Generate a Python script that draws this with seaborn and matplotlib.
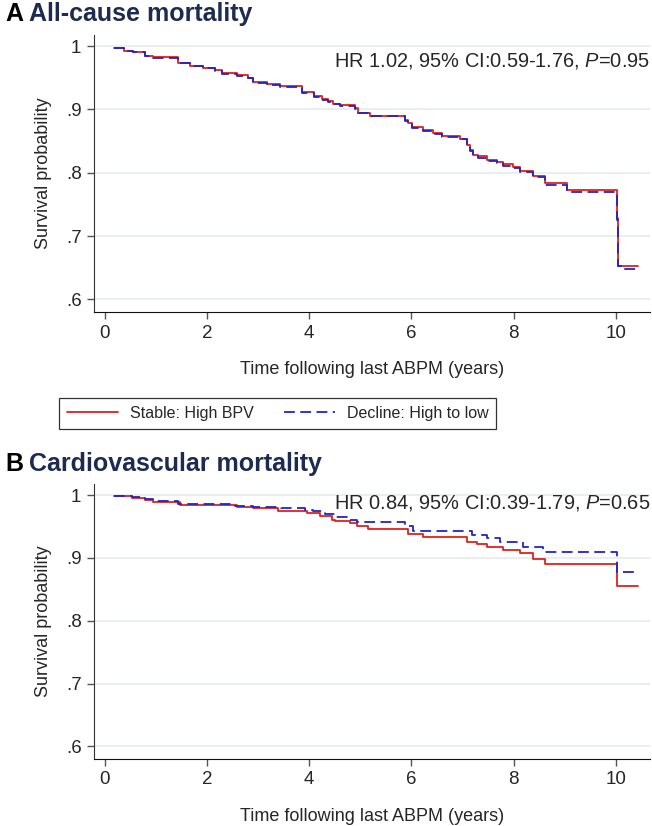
import pandas as pd
import seaborn as sns
import matplotlib.pyplot as plt
from matplotlib.lines import Line2D

# Panel A: all-cause mortality (KM curves)
a_stable_t = [0.18, 0.37, 0.55, 0.78, 0.94, 1.43, 1.66, 1.92, 2.15, 2.3, 2.58, 2.8, 2.9, 3.17, 3.42,
              3.85, 4.1, 4.25, 4.37, 4.46, 4.6, 4.9, 4.95, 5.19, 5.87, 5.93, 6.02, 6.22, 6.42, 6.6,
              6.95, 7.08, 7.15, 7.2, 7.3, 7.47, 7.67, 7.79, 7.98, 8.12, 8.38, 8.61, 9.04, 10.02,
              10.05, 10.43]
a_stable_s = [0.997, 0.993, 0.990, 0.985, 0.982, 0.974, 0.969, 0.966, 0.962, 0.957, 0.954, 0.950,
              0.943, 0.940, 0.937, 0.927, 0.921, 0.916, 0.914, 0.909, 0.907, 0.902, 0.895, 0.890,
              0.883, 0.878, 0.872, 0.867, 0.862, 0.858, 0.854, 0.844, 0.836, 0.828, 0.826, 0.820,
              0.817, 0.813, 0.809, 0.803, 0.795, 0.783, 0.7725, 0.728, 0.653, 0.653]
a_decline_t = [0.18, 0.37, 0.55, 0.78, 0.94, 1.43, 1.66, 1.92, 2.15, 2.3, 2.58, 2.8, 2.9, 3.17, 3.42,
               3.85, 4.1, 4.25, 4.37, 4.46, 4.6, 4.9, 4.95, 5.19, 5.87, 5.93, 6.02, 6.22, 6.42, 6.6,
               6.95, 7.08, 7.15, 7.2, 7.3, 7.47, 7.67, 7.79, 7.98, 8.12, 8.38, 8.61, 9.04, 10.02,
               10.05, 10.1, 10.43]
a_decline_s = [0.997, 0.993, 0.990, 0.984, 0.981, 0.973, 0.968, 0.965, 0.961, 0.956, 0.953, 0.949,
               0.942, 0.939, 0.936, 0.926, 0.920, 0.915, 0.912, 0.908, 0.906, 0.901, 0.894, 0.889,
               0.882, 0.877, 0.871, 0.866, 0.861, 0.857, 0.853, 0.843, 0.835, 0.827, 0.824, 0.819,
               0.815, 0.811, 0.807, 0.801, 0.793, 0.780, 0.770, 0.726, 0.653, 0.648, 0.648]

# Panel B: cardiovascular mortality
b_stable_t = [0.18, 0.52, 0.78, 0.94, 1.47, 2.58, 2.9, 3.39, 3.95, 4.2, 4.44, 4.5, 4.8, 4.93, 5.15,
              5.93, 6.22, 7.08, 7.28, 7.47, 7.79, 8.12, 8.38, 8.61, 10.02, 10.43]
b_stable_s = [0.999, 0.996, 0.992, 0.989, 0.984, 0.981, 0.979, 0.975, 0.971, 0.967, 0.961, 0.958,
              0.955, 0.951, 0.946, 0.938, 0.933, 0.926, 0.922, 0.918, 0.913, 0.907, 0.898, 0.890,
              0.855, 0.855]
b_decline_t = [0.18, 0.52, 0.78, 0.94, 1.43, 2.55, 2.9, 3.45, 3.92, 4.07, 4.3, 4.53, 4.8, 4.93, 5.87,
               6.03, 7.18, 7.47, 7.73, 8.18, 8.57, 10.02, 10.37]
b_decline_s = [0.999, 0.997, 0.994, 0.991, 0.986, 0.983, 0.981, 0.980, 0.976, 0.974, 0.970, 0.965,
               0.960, 0.957, 0.950, 0.943, 0.937, 0.931, 0.926, 0.918, 0.910, 0.878, 0.878]

x_ticks = [0, 2, 4, 6, 8, 10]
y_ticks = [0.6, 0.7, 0.8, 0.9, 1.0]
y_ticklabels = ['.6', '.7', '.8', '.9', '1']
groups = ['Stable: High BPV', 'Decline: High to low']
hr_texts = ['HR 1.02, 95% CI:0.59-1.76, $\\mathit{P}$=0.95',
            'HR 0.84, 95% CI:0.39-1.79, $\\mathit{P}$=0.65']
panel_letters = ['A', 'B']
panel_titles = ['All-cause mortality', 'Cardiovascular mortality']

red = '#e3201b'
blue = '#2323c8'
navy = '#1c2b4f'

sns.set_style('ticks')
plt.rcParams['font.family'] = ['Liberation Sans', 'DejaVu Sans']
plt.rcParams['mathtext.fontset'] = 'custom'
plt.rcParams['mathtext.rm'] = 'Liberation Sans'
plt.rcParams['mathtext.it'] = 'Liberation Sans:italic'

fig = plt.figure(figsize=(6.52, 8.26), dpi=100)
ax_a = fig.add_axes([94 / 652, 1 - 312 / 826, 556 / 652, 277 / 826])
ax_b = fig.add_axes([94 / 652, 1 - 759 / 826, 556 / 652, 275 / 826])

panels = [(ax_a, a_stable_t, a_stable_s, a_decline_t, a_decline_s),
          (ax_b, b_stable_t, b_stable_s, b_decline_t, b_decline_s)]

for i, (ax, st, ss, dt, ds) in enumerate(panels):
    df_s = pd.DataFrame({'time': st, 'surv': ss})
    df_d = pd.DataFrame({'time': dt, 'surv': ds})
    sns.lineplot(data=df_s, x='time', y='surv', ax=ax, color=red, lw=1.3,
                 drawstyle='steps-post', estimator=None, sort=False, zorder=3)
    sns.lineplot(data=df_d, x='time', y='surv', ax=ax, color=blue, lw=1.3,
                 drawstyle='steps-post', estimator=None, sort=False, zorder=4,
                 dashes=False, linestyle=(0, (6, 3)))
    ax.set_xlim(-0.215, 10.67)
    ax.set_ylim(0.58, 1.0175)
    ax.set_xticks(x_ticks)
    ax.set_xticklabels([str(x) for x in x_ticks])
    ax.set_yticks(y_ticks)
    ax.set_yticklabels(y_ticklabels)
    ax.tick_params(labelsize=13.5, length=5, width=1, color='#555555', pad=4)
    for y in y_ticks:
        ax.axhline(y, color='#e5ecee', lw=1.2, zorder=1)
    sns.despine(ax=ax)
    ax.spines['left'].set_color('#333333')
    ax.spines['bottom'].set_color('#111111')
    ax.set_xlabel('Time following last ABPM (years)', fontsize=13, labelpad=14)
    ax.set_ylabel('Survival probability', fontsize=13, labelpad=10)
    ax.text(1.0, 0.905 if i == 0 else 0.93, hr_texts[i], transform=ax.transAxes,
            ha='right', va='center', fontsize=14.4, zorder=5)

title_y = [1 - 14 / 826, 1 - 464 / 826]
for letter, title, y in zip(panel_letters, panel_titles, title_y):
    fig.text(5 / 652, y, letter, fontsize=18, fontweight='bold', color='black', va='center')
    fig.text(29 / 652, y, title, fontsize=18, fontweight='bold', color=navy, va='center')

handles = [Line2D([], [], color=red, lw=1.3),
           Line2D([], [], color=blue, lw=1.3, linestyle=(0, (6, 3)))]
leg = fig.legend(handles, groups, loc='center', bbox_to_anchor=(277.5 / 652, 1 - 413.5 / 826),
                 ncol=2, fontsize=11.5, frameon=True, fancybox=False, handlelength=3.2,
                 handletextpad=0.75, columnspacing=1.9, borderpad=0.5)
leg.get_frame().set_edgecolor('black')
leg.get_frame().set_linewidth(0.9)

plt.savefig('out.png', dpi=100)
plt.close('all')
